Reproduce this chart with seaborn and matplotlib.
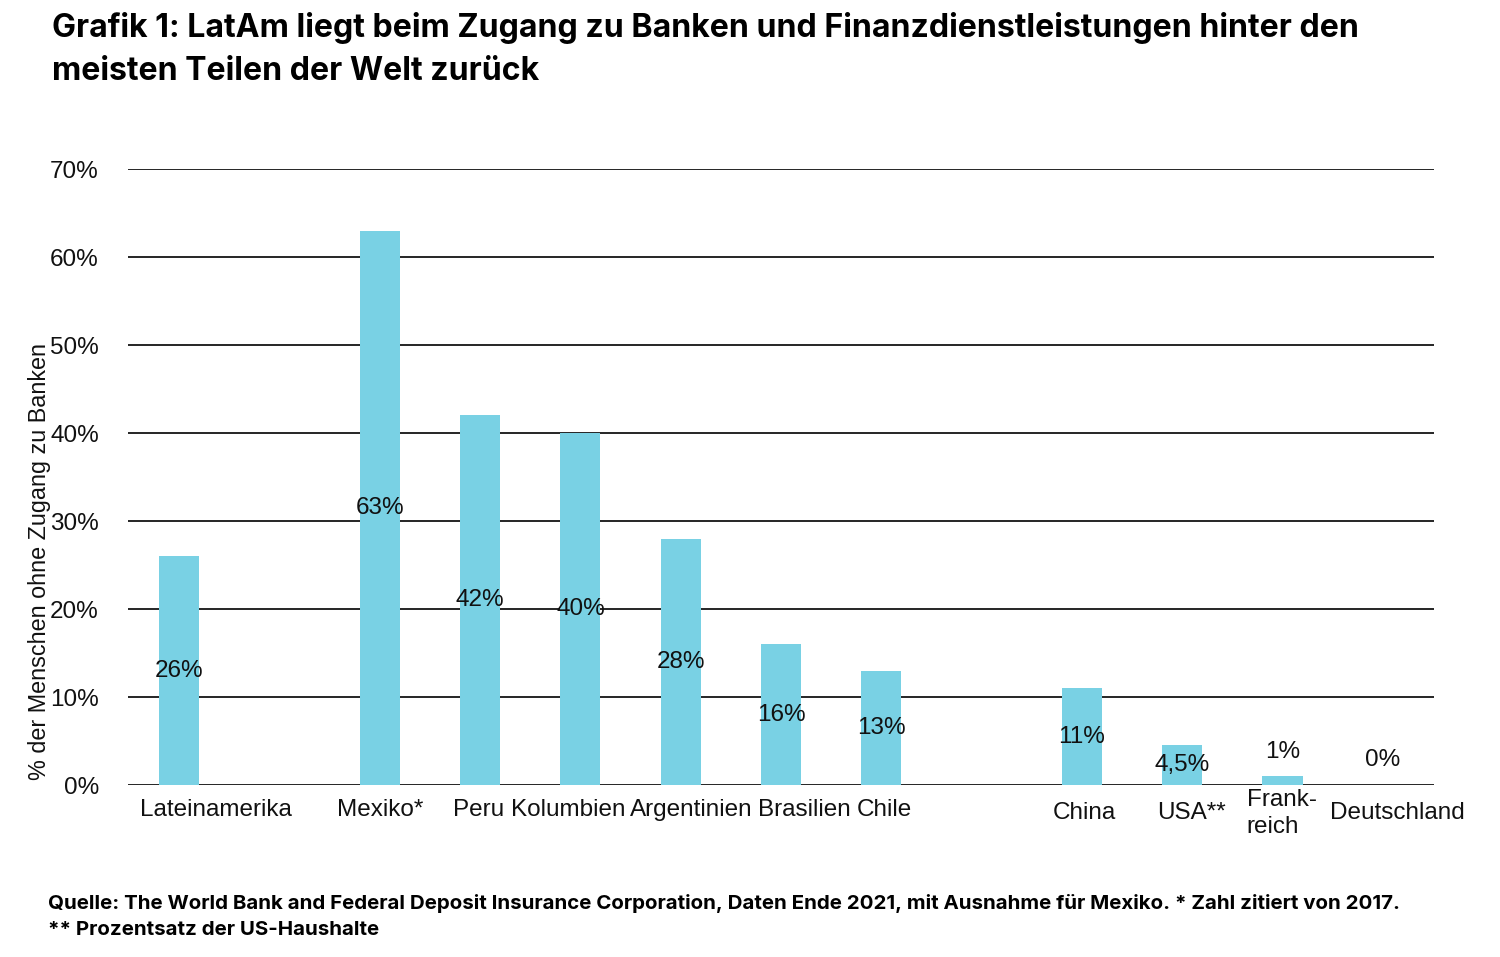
import numpy as np
import pandas as pd
import seaborn as sns
import matplotlib
matplotlib.use("Agg")
import matplotlib.pyplot as plt
from matplotlib.transforms import ScaledTranslation

# ---- data ----
categories = ["Lateinamerika", "Mexiko*", "Peru", "Kolumbien", "Argentinien",
              "Brasilien", "Chile", "China", "USA**", "Frank-\nreich", "Deutschland"]
values = [26, 63, 42, 40, 28, 16, 13, 11, 4.5, 1, 0]
value_labels = ["26%", "63%", "42%", "40%", "28%", "16%", "13%", "11%", "4,5%", "1%", "0%"]
y_ticks = [0, 10, 20, 30, 40, 50, 60, 70]
y_tick_labels = ["0%", "10%", "20%", "30%", "40%", "50%", "60%", "70%"]

title = ("Grafik 1: LatAm liegt beim Zugang zu Banken und Finanzdienstleistungen hinter den\n"
         "meisten Teilen der Welt zurück")
ylabel = "% der Menschen ohne Zugang zu Banken"
source = ("Quelle: The World Bank and Federal Deposit Insurance Corporation, Daten Ende 2021, "
          "mit Ausnahme für Mexiko. * Zahl zitiert von 2017.\n** Prozentsatz der US-Haushalte")

# ---- plot ----
sns.set_theme(style="white")
plt.rcParams["font.family"] = ["Liberation Sans", "DejaVu Sans"]
FS = 17.5

df = pd.DataFrame({"cat": categories, "val": values})
gap1, gap2 = "_g1", "_g2"
order = categories[:1] + [gap1] + categories[1:7] + [gap2] + categories[7:]

fig = plt.figure(figsize=(15, 9.57), dpi=100)
ax = fig.add_axes([128 / 1500, 1 - 785 / 957, (1434 - 128) / 1500, (785 - 169) / 957])

sns.barplot(data=df, x="cat", y="val", order=order, color="#79D1E4",
            saturation=1, width=0.4, ax=ax, zorder=3, linewidth=0, edgecolor="none")

ax.set_xlim(-0.51, 12.51)
ax.set_ylim(0, 70)
ax.set_yticks(y_ticks)
ax.set_yticklabels(y_tick_labels, fontsize=FS, color="#111111")
for y in y_ticks:
    ax.axhline(y, color="black", lw=1.2, zorder=1)
for s in ax.spines.values():
    s.set_visible(False)
ax.tick_params(axis="y", length=0, pad=21)
ax.tick_params(axis="x", length=0, pad=10)
ax.set_xlabel("")
ax.set_ylabel("")

# x tick labels with per-label nudges
xt = ax.get_xticks()
labels = [c if not c.startswith("_g") else "" for c in order]
ax.set_xticks(xt)
ax.set_xticklabels(labels, fontsize=FS, color="#111111")
nudge = {"Lateinamerika": (37, 0), "Argentinien": (11, 0), "Kolumbien": (-12, 0),
         "Peru": (-2, 0), "Brasilien": (23, 0), "Chile": (3, 0), "China": (2, -3),
         "USA**": (9, -3), "Frank-\nreich": (-36, 10), "Deutschland": (15, -3)}
for t in ax.get_xticklabels():
    txt = t.get_text()
    if txt in nudge:
        dx, dy = nudge[txt]
        t.set_transform(t.get_transform() +
                        ScaledTranslation(dx / 100, dy / 100, fig.dpi_scale_trans))
    if txt.startswith("Frank"):
        t.set_ha("left")
        t.set_linespacing(1.3)

# value labels
for cat, v, lab in zip(categories, values, value_labels):
    x = order.index(cat)
    y = v / 2 if v >= 4 else v + 2.8
    ax.text(x, y, lab, ha="center", va="center", fontsize=FS, color="#111111", zorder=4)

fig.text(40 / 1500, 1 - 561 / 957, ylabel, rotation=90, ha="center", va="center",
         fontsize=16.8, color="#111111")

fig.text(52 / 1500, 1 - 12 / 957, title, ha="left", va="top", fontsize=23.1,
         fontweight="bold", family=["Inter", "DejaVu Sans"], linespacing=1.5, color="black")
fig.text(48 / 1500, 1 - 894 / 957, source, ha="left", va="top", fontsize=14.75,
         fontweight="bold", family=["Inter", "DejaVu Sans"], linespacing=1.6, color="black")

fig.savefig("out.png", dpi=100)
